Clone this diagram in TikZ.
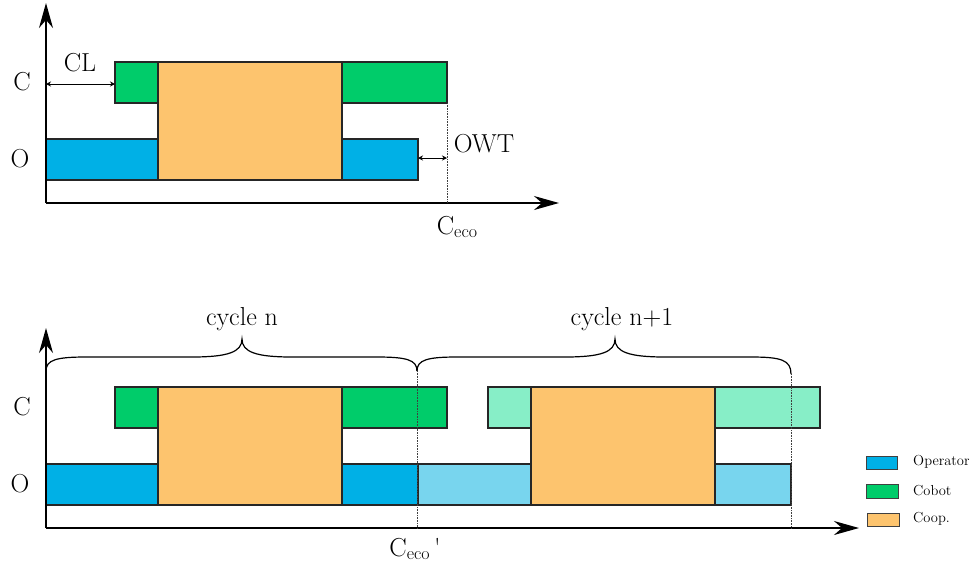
\documentclass[tikz,border=0pt]{standalone}
\usetikzlibrary{arrows.meta}
\definecolor{opblue}{RGB}{0,176,230}
\definecolor{cobgreen}{RGB}{0,204,106}
\definecolor{coopor}{RGB}{253,196,110}
\definecolor{opblue2}{RGB}{120,213,238}
\definecolor{cobgreen2}{RGB}{135,238,199}
\newcommand{\ecosub}{\raisebox{-0.35ex}{\fontsize{18}{18}\selectfont eco}}

\begin{document}
\begin{tikzpicture}[
  x=1pt,y=-1pt,
  box/.style={draw=black!85,line width=1.3pt},
  op/.style={box,fill=opblue},
  cob/.style={box,fill=cobgreen},
  coop/.style={box,fill=coopor},
  opnext/.style={box,fill=opblue2},
  cobnext/.style={box,fill=cobgreen2},
  axis/.style={line width=1.5pt,-{Stealth[length=25pt,width=14pt,inset=8pt]}},
  dim/.style={line width=1pt,{Stealth[length=5pt,width=5pt]}-{Stealth[length=5pt,width=5pt]}},
  guide/.style={densely dotted,line width=0.6pt,black!75},
  brc/.style={line width=1.2pt},
  lbl/.style={font=\fontsize{26}{29}\selectfont,inner sep=0pt},
  key/.style={font=\fontsize{14.5}{16}\selectfont,anchor=west,inner sep=0pt},
  keybox/.style={draw=black!75,line width=1pt}
]
\useasboundingbox (0,0) rectangle (975,566);

% cycle n, drawn in both charts
\foreach \dy in {0,325} {
  \begin{scope}[shift={(0,\dy)}]
    \draw[cob] (115,62) rectangle (158,103);
    \draw[cob] (342,62) rectangle (447,103);
    \draw[op] (46,139) rectangle (158,180);
    \draw[op] (342,139) rectangle (418,180);
    \draw[coop] (158,62) rectangle (342,180);
    \node[lbl] (rowc) at (22,82) {C};
    \node[lbl] (rowo) at (20,159) {O};
  \end{scope}
}

% Top chart
\coordinate (org1) at (46,203);
\coordinate (ytip1) at (46,3);
\coordinate (xtip1) at (559,203);
\draw[axis] (org1) -- (ytip1);
\draw[axis] (org1) -- (xtip1);
\coordinate (cl-a) at (46,84);
\coordinate (cl-b) at (115,84);
\draw[dim] (cl-a) -- (cl-b);
\node[lbl] (cl) at (80,63) {CL};
\coordinate (owt-a) at (418,158);
\coordinate (owt-b) at (447,158);
\draw[dim] (owt-a) -- (owt-b);
\node[lbl] (owt) at (484,144) {OWT};
\coordinate (ceco-a) at (447,103);
\coordinate (ceco-b) at (447,203);
\draw[guide] (ceco-a) -- (ceco-b);
\node[lbl] (ceco) at (457,227) {C\ecosub};

% Bottom chart: cycle n+1
\draw[opnext] (418,464) rectangle (531,505);
\draw[opnext] (715,464) rectangle (791,505);
\draw[cobnext] (488,387) rectangle (531,428);
\draw[cobnext] (715,387) rectangle (820,428);
\draw[coop] (531,387) rectangle (715,505);

\coordinate (org2) at (46,528);
\coordinate (ytip2) at (46,328);
\coordinate (xtip2) at (859,528);
\draw[axis] (org2) -- (ytip2);
\draw[axis] (org2) -- (xtip2);

% cycle braces
\foreach \a/\m/\b/\e in {46/242/417/371, 417/615/791/374} {
  \draw[brc] (\a,371) .. controls (\a,360) and ({\a+10},357) .. ({\a+40},357)
    -- ({\m-50},357) .. controls ({\m-14},357) and (\m,352) .. (\m,339)
    .. controls (\m,352) and ({\m+14},357) .. ({\m+50},357)
    -- ({\b-40},357) .. controls ({\b-10},357) and (\b,360) .. (\b,\e);
}
\node[lbl] (cyc1) at (242,319) {cycle n};
\node[lbl] (cyc2) at (622,319) {cycle n+1};

\coordinate (g1-a) at (417,371);
\coordinate (g1-b) at (417,528);
\coordinate (g2-a) at (791,374);
\coordinate (g2-b) at (791,528);
\draw[guide] (g1-a) -- (g1-b);
\draw[guide] (g2-a) -- (g2-b);
\node[lbl] (ceco2) at (415,549) {C\ecosub\,\textquotesingle};

% Legend
\draw[keybox,fill=opblue] (866,456) rectangle (897,469);
\draw[keybox,fill=cobgreen] (866,484) rectangle (898,498);
\draw[keybox,fill=coopor] (867,513) rectangle (899,526);
\node[key] (kop) at (913,462) {Operator};
\node[key] (kcob) at (913,491) {Cobot};
\node[key] (kcoop) at (913,519) {Coop.};
\end{tikzpicture}
\end{document}
